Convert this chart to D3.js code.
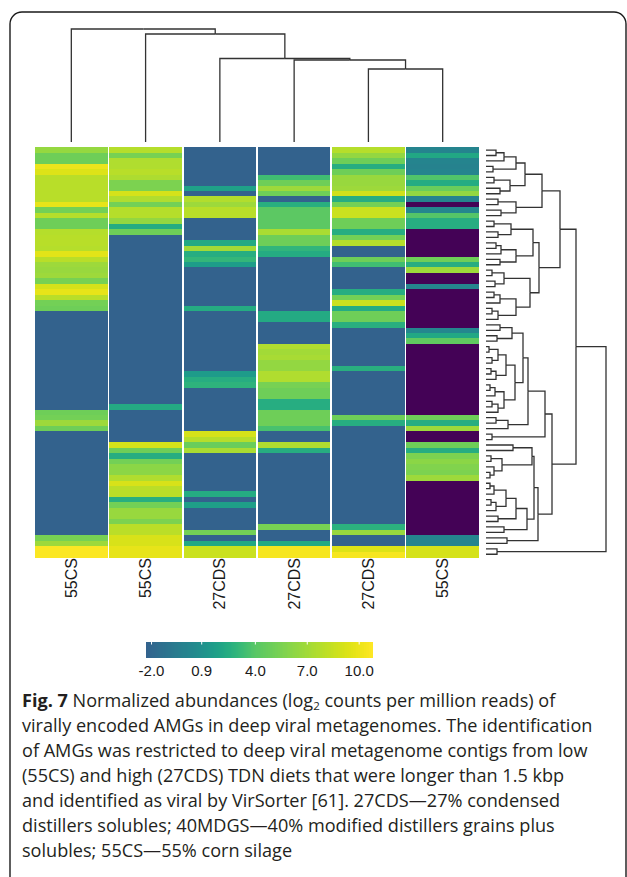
<!DOCTYPE html>
<html>
<head>
<meta charset="utf-8">
<script src="https://cdn.jsdelivr.net/npm/d3@7"></script>
<style>
  html, body { margin: 0; padding: 0; background: #fff; }
  svg { display: block; }
</style>
</head>
<body>
<svg id="fig" width="627" height="877"></svg>
<script>
// ---- data -------------------------------------------------------------
// log2 CPM abundance of each AMG (rows) in each deep viral metagenome (columns)
const samples = ["55CS", "55CS", "27CDS", "27CDS", "27CDS", "55CS"];

const s1 = [
  6.5, 5.0, 5.0, 10.0, 9.4, 7.9, 7.9, 7.9, 7.9, 7.9,
  9.8, 5.2, 7.8, 5.0, 5.0, 7.8, 7.9, 7.9, 7.8, 9.6,
  7.9, 6.8, 6.6, 6.8, 5.4, 9.0, 9.8, 7.9, 5.2, 5.0,
  -2.3, -2.3, -2.3, -2.3, -2.3, -2.3, -2.3, -2.3, -2.3, -2.3,
  -2.3, -2.3, -2.3, -2.3, -2.3, -2.3, -2.3, -2.3, 5.0, 5.2,
  6.8, 5.0, -2.3, -2.3, -2.3, -2.3, -2.3, -2.3, -2.3, -2.3,
  -2.3, -2.3, -2.3, -2.3, -2.3, -2.3, -2.3, -2.3, -2.3, -2.3,
  -2.3, 5.4, 6.8, 10.6, 10.6
];
const s2 = [
  7.8, 5.4, 7.6, 7.6, 7.9, 7.5, 5.6, 5.6, 9.0, 7.6,
  5.2, 7.8, 7.8, 6.4, 2.4, 5.0, -2.3, -2.3, -2.3, -2.3,
  -2.3, -2.3, -2.3, -2.3, -2.3, -2.3, -2.3, -2.3, -2.3, -2.3,
  -2.3, -2.3, -2.3, -2.3, -2.3, -2.3, -2.3, -2.3, -2.3, -2.3,
  -2.3, -2.3, -2.3, -2.3, -2.3, -2.3, -2.3, 2.3, -2.3, -2.3,
  -2.3, -2.3, -2.3, -2.3, 9.0, 5.0, 2.5, 5.2, 6.2, 6.2,
  7.6, 9.2, 8.0, 8.0, 2.6, 5.2, 6.6, 6.6, 5.6, 8.0,
  8.0, 9.2, 9.2, 9.8, 9.8
];
const s3 = [
  -2.3, -2.3, -2.3, -2.3, -2.3, -2.3, -2.3, 1.8, -2.3, 7.7,
  6.8, 7.9, 7.9, -2.3, -2.3, -2.3, -2.3, 2.3, 7.0, 2.5,
  3.0, 1.6, -2.3, -2.3, -2.3, -2.3, -2.3, -2.3, -2.3, 2.4,
  -2.3, -2.3, -2.3, -2.3, -2.3, -2.3, -2.3, -2.3, -2.3, -2.3,
  -2.3, 1.5, 2.5, 2.8, -2.3, -2.3, -2.3, -2.3, -2.3, -2.3,
  -2.3, -2.3, 9.0, 7.8, 4.8, 7.4, -2.3, -2.3, -2.3, -2.3,
  -2.3, -2.3, -2.3, 2.4, -2.3, 1.7, -2.3, -2.3, -2.3, -2.3,
  5.2, -2.3, 2.2, 8.6, 8.6
];
const s4 = [
  -2.3, -2.3, -2.3, -2.3, -2.3, 3.4, 5.0, 6.8, 5.0, -2.3,
  2.6, 4.2, 4.2, 4.2, 4.2, 7.4, 5.0, 5.0, 2.9, 2.4,
  -2.3, -2.3, -2.3, -2.3, -2.3, -2.3, -2.3, -2.3, -2.3, -2.3,
  2.3, 2.3, -2.3, -2.3, -2.3, -2.3, 7.6, 7.0, 7.2, 6.4,
  6.4, 7.6, 7.6, 5.4, 5.0, 5.0, 2.5, 2.5, 5.0, 5.0,
  5.0, 3.6, -2.3, -2.3, 7.6, 2.5, -2.3, -2.3, -2.3, -2.3,
  -2.3, -2.3, -2.3, -2.3, -2.3, -2.3, -2.3, -2.3, -2.3, 5.4,
  -2.3, -2.3, 2.3, 10.4, 10.4
];
const s5 = [
  7.8, 6.4, 5.0, 2.5, 5.0, 6.6, 6.6, 6.8, 8.8, 2.5,
  5.2, 8.6, 8.6, 5.0, 5.0, 2.5, 5.2, 7.8, -2.3, -2.3,
  5.0, 3.4, -2.3, -2.3, -2.3, -2.3, 2.5, 5.2, 8.6, 2.4,
  5.0, 5.0, 2.6, -2.3, -2.3, -2.3, -2.3, -2.3, -2.3, -2.3,
  2.6, -2.3, -2.3, -2.3, -2.3, -2.3, -2.3, -2.3, -2.3, 5.0,
  2.5, -2.3, -2.3, -2.3, -2.3, -2.3, -2.3, -2.3, -2.3, -2.3,
  -2.3, -2.3, -2.3, -2.3, -2.3, -2.3, -2.3, -2.3, -2.3, 2.7,
  6.6, -2.3, -2.3, 9.4, 10.4
];
const s6 = [
  0.1, 2.2, 0.1, -0.1, 0.1, 3.8, 2.4, 4.8, 6.4, 0.0,
  -8.4, 0.3, 3.9, 2.5, 2.5, -8.4, -8.4, -8.4, -8.4, -8.4,
  5.0, 2.5, 6.8, -8.4, -8.4, 0.1, -8.4, -8.4, -8.4, -8.4,
  -8.4, -8.4, -8.4, 0.3, 2.2, 4.4, -8.4, -8.4, -8.4, -8.4,
  -8.4, -8.4, -8.4, -8.4, -8.4, -8.4, -8.4, -8.4, -8.4, 5.0,
  2.5, 6.8, -8.4, -8.4, 5.0, 2.5, 5.6, 6.2, 5.8, 5.6,
  6.8, -8.4, -8.4, -8.4, -8.4, -8.4, -8.4, -8.4, -8.4, -8.4,
  -8.4, 0.1, 0.1, 9.0, 9.0
];
const sampleValues = [s1, s2, s3, s4, s5, s6];

// sample clustering: [height, left, right]; leaves are column indices
const colTree = [113, 0, [108, 1, [83.5, 2, [82, 3, [73, 4, 5]]]]];

// AMG clustering: [height, left, right]; leaves are row indices
const rowTree = [120,
  [90,
    [74,
      [56,
        [39,
          [30, [18, [10, 0, 1], 2], [7, 3, 4]],
          [24, [8, 5, 6], [14, 7, 8]]],
        [30, [12, 9, 10], [15, 11, 12]]],
      [53,
        [47,
          [25, [8, 13, 14], [12, 15, 16]],
          [30, [15, [10, 17, 18], 19], [14, 20, 21]]],
        [44,
          [18, [6, 22, 23], [9, 24, 25]],
          [30, [14, [8, 26, 27], 28], [12, [6, 29, 30], 31]]]]],
    [66,
      [59,
        [42,
          [37,
            [26, [14, 32, 33], [11, 34, 35]],
            [29,
              [20, [12, [3, 36, 37], [6, 38, 39]], [10, [5, 40, 41], 42]],
              [18, [9, [4, 43, 44], 45], [12, [6, 46, 47], 48]]]],
          [22, [10, 49, 50], 51]],
        [6, 52, 53]],
      [52,
        [48,
          [46, [27, 54, 55], [16, [5, 56, 57], [8, 58, [4, 59, 60]]]],
          [41,
            [30,
              [20, [8, [4, 61, 62], 63], [10, [5, 64, 65], 66]],
              [12, 67, 68]],
            [18, 69, 70]]],
        [21, 71, 72]]]],
  [11, 73, 74]];

// colour key: value stops and their positions along the viridis ramp
const colourStops = [-8.5, -2.32, 0.9, 4.0, 7.0, 10.8];
const viridisStops = [0, 0.31, 0.5, 0.74, 0.86, 1.0];
const legendTicks = [-2.0, 0.9, 4.0, 7.0, 10.0];
const legendRange = [-2.32, 10.8];

const captionLines = [
  ["Fig. 7", " Normalized abundances (log", "2", " counts per million reads) of"],
  ["virally encoded AMGs in deep viral metagenomes. The identification"],
  ["of AMGs was restricted to deep viral metagenome contigs from low"],
  ["(55CS) and high (27CDS) TDN diets that were longer than 1.5 kbp"],
  ["and identified as viral by VirSorter [61]. 27CDS\u201427% condensed"],
  ["distillers solubles; 40MDGS\u201440% modified distillers grains plus"],
  ["solubles; 55CS\u201455% corn silage"]
];

// ---- drawing ----------------------------------------------------------
const svg = d3.select("#fig");
svg.append("rect").attr("width", 627).attr("height", 877).attr("fill", "#fff");

// panel frame
svg.append("rect")
  .attr("x", 10).attr("y", 12).attr("width", 616).attr("height", 900)
  .attr("rx", 12).attr("fill", "none")
  .attr("stroke", "#1a1a1a").attr("stroke-width", 1.4);

const nRows = s1.length;
const x = d3.scaleBand().domain(d3.range(samples.length)).range([35, 479]).paddingInner(0.022);
const y = d3.scaleBand().domain(d3.range(nRows)).range([147.3, 557]);
const ramp = d3.scaleLinear().domain(colourStops).range(viridisStops).clamp(true);
const colour = v => d3.interpolateViridis(ramp(v));

// heatmap cells
const cells = [];
sampleValues.forEach((col, j) => col.forEach((v, i) => cells.push({ i, j, v })));
svg.append("g").attr("shape-rendering", "crispEdges")
  .selectAll("rect").data(cells).join("rect")
  .attr("x", d => x(d.j))
  .attr("y", d => y(d.i))
  .attr("width", x.bandwidth())
  .attr("height", y.bandwidth() + 0.5)
  .attr("fill", d => colour(d.v));

// dendrogram helper: returns positioned hierarchy
function layoutTree(tree, leafPos) {
  const root = d3.hierarchy(tree, d => Array.isArray(d) ? d.slice(1) : null);
  root.eachAfter(n => {
    if (!n.children) { n.pos = leafPos(n.data); n.h = 0; }
    else { n.pos = d3.mean(n.children, c => c.pos); n.h = n.data[0]; }
  });
  return root;
}

const lineStyle = g => g.attr("fill", "none").attr("stroke", "#333").attr("stroke-width", 1.3);

// column dendrogram
const colRoot = layoutTree(colTree, j => x(j) + x.bandwidth() / 2);
const hCol = d3.scaleLinear().domain([0, 113]).range([142, 29]);
svg.append("g").call(lineStyle)
  .selectAll("path").data(colRoot.descendants().filter(n => n.parent)).join("path")
  .attr("d", n => `M${n.pos},${hCol(n.h)}V${hCol(n.parent.h)}H${n.parent.pos}`);

// row dendrogram
const rowRoot = layoutTree(rowTree, i => y(i) + y.bandwidth() / 2);
const hRow = d3.scaleLinear().domain([0, 120]).range([486, 606]);
svg.append("g").call(lineStyle)
  .selectAll("path").data(rowRoot.descendants().filter(n => n.parent)).join("path")
  .attr("d", n => `M${hRow(n.h)},${n.pos}H${hRow(n.parent.h)}V${n.parent.pos}`);

// column labels
svg.append("g").selectAll("text").data(samples).join("text")
  .attr("transform", (d, j) => `translate(${x(j) + x.bandwidth() / 2 + 5.5},558) rotate(-90)`)
  .attr("text-anchor", "end")
  .attr("font-family", "Liberation Sans, Arial, sans-serif")
  .attr("font-size", 16)
  .attr("fill", "#1a1a1a")
  .text(d => d);

// colour legend
const lx = d3.scaleLinear().domain(legendRange).range([146, 373]);
const steps = d3.range(146, 373, 1);
const legend = svg.append("g");
legend.append("g").attr("shape-rendering", "crispEdges")
  .selectAll("rect").data(steps).join("rect")
  .attr("x", d => d).attr("y", 642).attr("width", 1.2).attr("height", 16)
  .attr("fill", d => colour(lx.invert(d + 0.5)));
legend.selectAll("line.tk").data(legendTicks).join("line")
  .attr("class", "tk")
  .attr("x1", d => lx(d)).attr("x2", d => lx(d))
  .attr("y1", 642).attr("y2", 644.5)
  .attr("stroke", "#fff").attr("stroke-width", 1);
legend.selectAll("text").data(legendTicks).join("text")
  .attr("x", d => lx(d)).attr("y", 676)
  .attr("text-anchor", "middle")
  .attr("font-family", "Liberation Sans, Arial, sans-serif")
  .attr("font-size", 15)
  .attr("fill", "#1a1a1a")
  .text(d => d.toFixed(1));

// caption
const cap = svg.append("g")
  .attr("font-family", "Open Sans, sans-serif")
  .attr("font-size", 18.1)
  .attr("fill", "#231f20");
captionLines.forEach((parts, k) => {
  const t = cap.append("text").attr("x", 22).attr("y", 707 + k * 25);
  if (k === 0) {
    t.append("tspan").attr("font-weight", "bold").text(parts[0]);
    t.append("tspan").text(parts[1]);
    t.append("tspan").attr("font-size", 11.5).attr("dy", 3).text(parts[2]);
    t.append("tspan").attr("dy", -3).text(parts[3]);
  } else {
    t.text(parts[0]);
  }
});
</script>
</body>
</html>
